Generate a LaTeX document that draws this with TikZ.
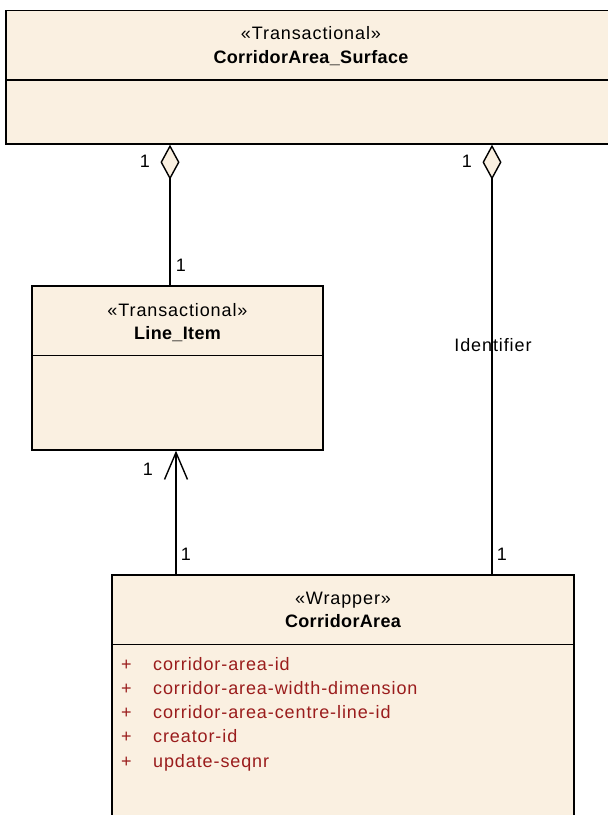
\documentclass[tikz,border=0pt]{standalone}
\usepackage{fontspec}
\setmainfont{Liberation Sans}
\newfontfamily\umlfont[LetterSpace=5]{Liberation Sans}
\newfontfamily\umlboldfont[LetterSpace=2]{Liberation Sans Bold}
\usetikzlibrary{arrows.meta, positioning, calc}
\definecolor{umlfill}{HTML}{FAF0E1}
\definecolor{attrred}{HTML}{9A1C1C}

\begin{document}
\begin{tikzpicture}[
    x=1pt, y=-1pt,
    classbox/.style={
      rectangle,
      draw=black,
      line width=1.4pt,
      fill=umlfill,
      inner sep=0pt
    },
    stereo/.style={font=\fontsize{18}{20}\selectfont\umlfont, inner sep=0pt, anchor=base},
    cname/.style={font=\fontsize{18}{20}\selectfont\umlboldfont, inner sep=0pt, anchor=base},
    attr/.style={font=\fontsize{18}{20}\selectfont\umlfont\color{attrred}, inner sep=0pt, anchor=base west},
    mult/.style={font=\fontsize{18}{20}\selectfont\umlfont, inner sep=0pt},
    conn/.style={line width=1.4pt},
    aggr/.style={conn, -{Diamond[length=35pt, width=19pt, fill=umlfill, line width=1.4pt]}},
    nav/.style={conn, -{Straight Barb[length=27pt, width=23pt, line width=1.4pt]}}
  ]
  \useasboundingbox (0,0) rectangle (608,815);

  % classes
  \node[classbox, minimum width=610pt, minimum height=133.5pt] (surface) at (311,77.25) {};
  \draw[conn] ([yshift=-70pt]surface.north west) -- ([yshift=-70pt]surface.north east);
  \node[stereo] (surfstereo) at ([yshift=-30pt]surface.north) {«Transactional»};
  \node[cname] (surfname) at ([yshift=-54pt]surface.north) {CorridorArea\_Surface};

  \node[classbox, minimum width=291pt, minimum height=164pt] (lineitem) at (177.5,368) {};
  \draw[conn] ([yshift=-70pt]lineitem.north west) -- ([yshift=-70pt]lineitem.north east);
  \node[stereo] (itemstereo) at ([yshift=-31pt]lineitem.north) {«Transactional»};
  \node[cname] (itemname) at ([yshift=-54pt]lineitem.north) {Line\_Item};

  \node[classbox, minimum width=462pt, minimum height=260pt] (area) at (343,705) {};
  \draw[conn] ([yshift=-70pt]area.north west) -- ([yshift=-70pt]area.north east);
  \node[stereo] (areastereo) at ([yshift=-30pt]area.north) {«Wrapper»};
  \node[cname] (areaname) at ([yshift=-53pt]area.north) {CorridorArea};

  \foreach \attrname [count=\i] in {corridor-area-id, corridor-area-width-dimension,
      corridor-area-centre-line-id, creator-id, update-seqnr} {
    \node[attr] (plus\i) at (121,{670+24.3*(\i-1)}) {+};
    \node[attr] (attr\i) at (153,{670+24.3*(\i-1)}) {\attrname};
  }

  % associations
  \coordinate (aggrleft) at ([xshift=-7.5pt]lineitem.north);
  \draw[aggr] (aggrleft) -- (aggrleft |- surface.south);

  \coordinate (navx) at ([xshift=-1.5pt]lineitem.south);
  \draw[nav] (navx |- area.north) -- (navx);

  \coordinate (idx) at (492,0);
  \draw[aggr] (idx |- area.north) -- (idx |- surface.south);

  % multiplicities
  \node[mult] (multa) at (145,161) {1};
  \node[mult] (multb) at (181,265) {1};
  \node[mult] (multc) at (467,161) {1};
  \node[mult] (multd) at (148,469) {1};
  \node[mult] (multe) at (186,554) {1};
  \node[mult] (multf) at (502,554) {1};
  \node[mult] (idlabel) at (493,345) {Identifier};
\end{tikzpicture}
\end{document}
